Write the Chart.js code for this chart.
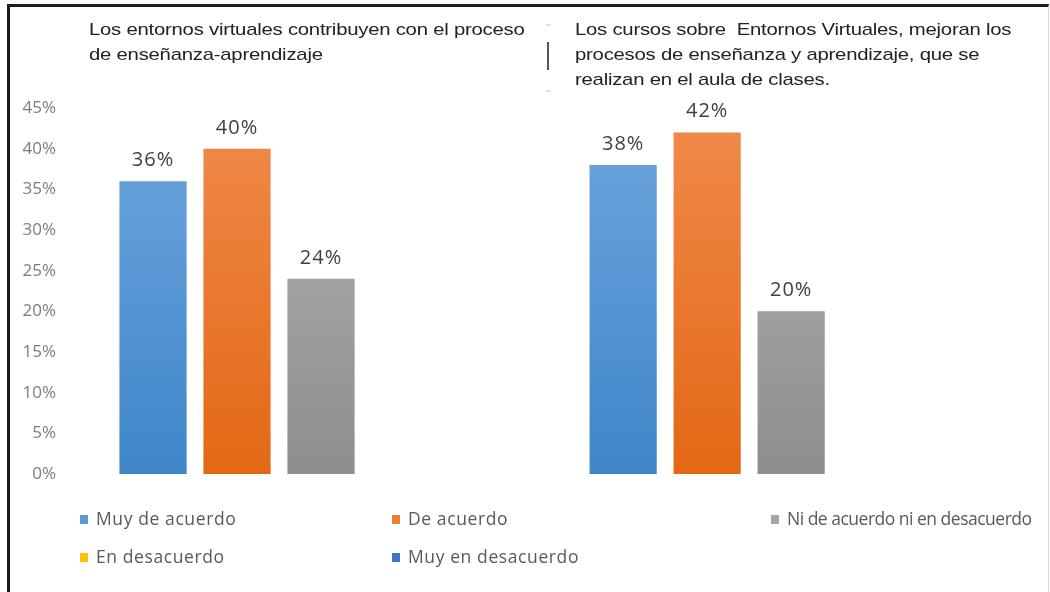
<!DOCTYPE html>
<html>
<head>
<meta charset="utf-8">
<script src="https://cdn.jsdelivr.net/npm/chart.js@4.4.1/dist/chart.umd.min.js"></script>
<style>
  html, body { margin: 0; padding: 0; background: #fff; }
  #wrap { position: relative; width: 1050px; height: 592px; overflow: hidden; }
  #frame {
    position: absolute; left: 7px; top: 4px; right: 1px; bottom: -4px;
    border-top: 3px solid #1c1c1c; border-left: 3px solid #1c1c1c; border-right: 1px solid #d8d8d8;
  }
  canvas { position: absolute; left: 0; top: 0; }
  .title {
    position: absolute; font-family: "Liberation Sans", Arial, sans-serif; font-size: 17px;
    line-height: 25px; color: #222; white-space: pre; letter-spacing: -0.2px;
    transform: scaleX(1.195); transform-origin: 0 0;
  }
  #sep { position: absolute; left: 547px; top: 42px; width: 2px; height: 28px; background: #555; }
  .dot { position: absolute; left: 546px; width: 5px; height: 2px; background: #e2e2e2; }
  .legend-item {
    position: absolute; font-family: "Open Sans", sans-serif; font-size: 17.5px; color: #595959;
    white-space: nowrap; letter-spacing: 0.6px;
  }
  .legend-item span.box { display: inline-block; width: 8px; height: 9px; margin-right: 8px; vertical-align: 1px; }
</style>
</head>
<body>
<div id="wrap">
  <div id="frame"></div>
  <canvas id="myChart" width="1050" height="592"></canvas>
  <div class="title" id="title0" style="left:89px; top:17px;"></div>
  <div class="title" id="title1" style="left:575px; top:17px;"></div>
  <div id="sep"></div>
  <div class="dot" style="top:24px;"></div>
  <div class="dot" style="top:90px;"></div>
  <div id="legend"></div>
</div>
<script>
// Chart titles (one per group of bars)
const categories = [
    'Los entornos virtuales contribuyen con el proceso\nde enseñanza-aprendizaje',
    'Los cursos sobre  Entornos Virtuales, mejoran los\nprocesos de enseñanza y aprendizaje, que se\nrealizan en el aula de clases.'
];

// Series names and values (percent)
const seriesNames = ['Muy de acuerdo', 'De acuerdo', 'Ni de acuerdo ni en desacuerdo', 'En desacuerdo', 'Muy en desacuerdo'];
const muyDeAcuerdo = [36, 38];
const deAcuerdo = [40, 42];
const niDeAcuerdo = [24, 20];
const enDesacuerdo = [0, 0];
const muyEnDesacuerdo = [0, 0];

// Y axis tick labels
const yTicks = [0, 5, 10, 15, 20, 25, 30, 35, 40, 45];

const seriesValues = [muyDeAcuerdo, deAcuerdo, niDeAcuerdo, enDesacuerdo, muyEnDesacuerdo];
const seriesColors = ['#5b9bd5', '#ed7d31', '#a5a5a5', '#ffc000', '#4472c4'];
const gradientStops = [
    ['#6ea6de', '#3f86c9'],
    ['#f08b4c', '#e36814'],
    ['#b2b2b2', '#8e8e8e'],
    ['#ffc000', '#ffc000'],
    ['#4472c4', '#4472c4']
];

// titles
categories.forEach((t, i) => { document.getElementById('title' + i).textContent = t; });

// legend, laid out in columns like the original
const legendPos = [[80, 506], [392, 506], [771, 506], [80, 544], [392, 544]];
const legendEl = document.getElementById('legend');
seriesNames.forEach((name, i) => {
    const item = document.createElement('div');
    item.className = 'legend-item';
    item.style.left = legendPos[i][0] + 'px';
    item.style.top = legendPos[i][1] + 'px';
    if (i === 2) item.style.letterSpacing = '-0.5px';
    const box = document.createElement('span');
    box.className = 'box';
    box.style.background = seriesColors[i];
    item.appendChild(box);
    item.appendChild(document.createTextNode(name));
    legendEl.appendChild(item);
});

function barGradient(i) {
    return (context) => {
        const chart = context.chart;
        const area = chart.chartArea;
        if (!area) return seriesColors[i];
        const g = chart.ctx.createLinearGradient(0, area.top, 0, area.bottom);
        g.addColorStop(0, gradientStops[i][0]);
        g.addColorStop(1, gradientStops[i][1]);
        return g;
    };
}

// value labels above the bars
const valueLabels = {
    id: 'valueLabels',
    afterDatasetsDraw(chart) {
        const ctx = chart.ctx;
        ctx.save();
        ctx.font = '20px "Open Sans", sans-serif';
        ctx.letterSpacing = '1px';
        ctx.fillStyle = '#404040';
        ctx.textAlign = 'center';
        ctx.textBaseline = 'alphabetic';
        chart.data.datasets.forEach((ds, di) => {
            if (!ds.grouped) return;
            chart.getDatasetMeta(di).data.forEach((bar, j) => {
                ctx.fillText(ds.data[j].y + '%', bar.x, bar.y - 15);
            });
        });
        ctx.restore();
    }
};

const ctx = document.getElementById('myChart').getContext('2d');
new Chart(ctx, {
    type: 'bar',
    data: {
        datasets: seriesNames.map((name, i) => ({
            label: name,
            data: seriesValues[i].map((v, j) => ({ x: j, y: v })),
            backgroundColor: barGradient(i),
            borderWidth: 0,
            grouped: i < 3
        }))
    },
    options: {
        responsive: false,
        animation: false,
        categoryPercentage: 0.536,
        barPercentage: 0.8,
        layout: { padding: { top: 108, left: 20, right: 10, bottom: 118 } },
        plugins: {
            legend: { display: false },
            tooltip: { enabled: false }
        },
        scales: {
            x: {
                type: 'linear',
                display: false,
                offset: false,
                min: -0.351,
                max: 1.708,
                afterBuildTicks: (axis) => {
                    axis.ticks = categories.map((c, i) => ({ value: i }));
                }
            },
            y: {
                min: 0,
                max: 45,
                grid: { display: false },
                border: { display: false },
                afterFit: (axis) => { axis.width = 52; },
                afterBuildTicks: (axis) => {
                    axis.ticks = yTicks.map(v => ({ value: v }));
                },
                ticks: {
                    padding: 8,
                    color: '#7d7d7d',
                    font: { family: '"Open Sans", sans-serif', size: 17 },
                    callback: (v) => v + '%'
                }
            }
        }
    },
    plugins: [valueLabels]
});
</script>
</body>
</html>
